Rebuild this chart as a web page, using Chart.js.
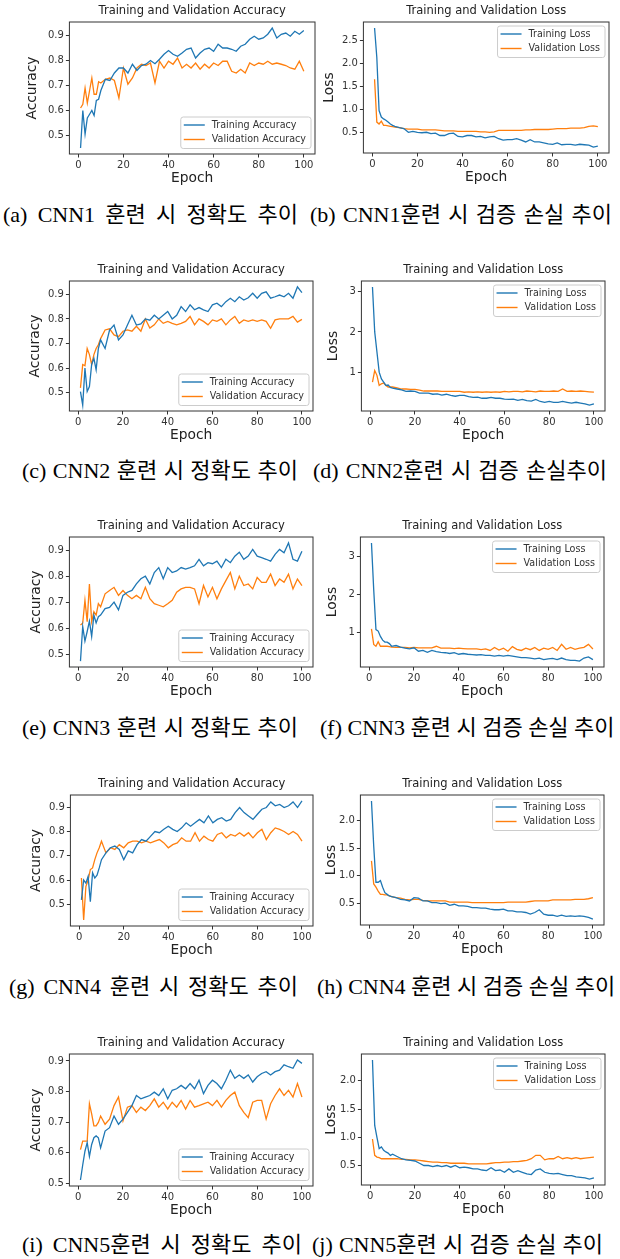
<!DOCTYPE html>
<html>
<head>
<meta charset="utf-8">
<script src="https://cdn.jsdelivr.net/npm/chart.js@4.4.1/dist/chart.umd.min.js"></script>
<style>
  body { margin: 0; background: #fff; width: 620px; height: 1259px; position: relative; overflow: hidden; }
  canvas { position: absolute; }
  .cap { position: absolute; font-family: "Liberation Serif", "Noto Sans CJK KR", serif; font-size: 22px; line-height: 22px; color: #000; white-space: nowrap; }
</style>
</head>
<body>
<script>
// epochs sampled from the figure (every epoch up to 10, then every 2nd)
const epochs = [1,2,3,4,5,6,7,8,9,10,12,14,16,18,20,22,24,26,28,30,32,34,36,38,40,42,44,46,48,50,
  52,54,56,58,60,62,64,66,68,70,72,74,76,78,80,82,84,86,88,90,92,94,96,98,100];

/* CNN1 */
const cnn1AccTrain = [0.45,0.60,0.505,0.57,0.585,0.60,0.58,0.64,0.645,0.68, 0.725,0.72,0.75,0.77,0.77,0.75,0.785,0.76,0.78,0.785,
  0.80,0.787,0.805,0.825,0.84,0.825,0.817,0.83,0.845,0.85, 0.81,0.83,0.845,0.85,0.837,0.865,0.85,0.85,0.845,0.837,
  0.857,0.865,0.885,0.897,0.885,0.89,0.905,0.93,0.89,0.905, 0.91,0.897,0.917,0.905,0.92];
const cnn1AccVal = [0.61,0.625,0.69,0.63,0.68,0.73,0.665,0.665,0.715,0.71, 0.725,0.73,0.72,0.65,0.77,0.705,0.73,0.77,0.785,0.78,
  0.79,0.71,0.797,0.77,0.797,0.785,0.81,0.77,0.785,0.77, 0.79,0.765,0.785,0.77,0.79,0.78,0.797,0.797,0.757,0.75,
  0.765,0.75,0.79,0.78,0.79,0.785,0.797,0.785,0.79,0.785, 0.78,0.77,0.765,0.797,0.757];
const cnn1LossTrain = [2.77,2.13,0.98,0.84,0.80,0.77,0.73,0.69,0.66,0.64, 0.61,0.59,0.51,0.53,0.51,0.50,0.51,0.48,0.49,0.44,
  0.44,0.48,0.49,0.42,0.41,0.44,0.44,0.41,0.42,0.39, 0.41,0.42,0.37,0.34,0.35,0.35,0.37,0.34,0.30,0.35,
  0.30,0.30,0.28,0.26,0.25,0.28,0.24,0.25,0.25,0.23, 0.25,0.24,0.23,0.19,0.21];
const cnn1LossVal = [1.66,0.73,0.69,0.75,0.66,0.66,0.65,0.64,0.63,0.62, 0.61,0.59,0.58,0.58,0.58,0.56,0.56,0.56,0.56,0.55,
  0.54,0.54,0.54,0.53,0.53,0.53,0.53,0.53,0.52,0.52, 0.51,0.52,0.55,0.55,0.55,0.55,0.55,0.55,0.56,0.56,
  0.57,0.57,0.57,0.57,0.58,0.59,0.59,0.59,0.60,0.60, 0.60,0.61,0.64,0.65,0.63];

/* CNN2 */
const cnn2AccTrain = [0.505,0.45,0.60,0.505,0.525,0.615,0.64,0.593,0.68,0.715, 0.68,0.755,0.775,0.715,0.735,0.775,0.815,0.775,0.78,0.80,
  0.795,0.815,0.80,0.815,0.83,0.80,0.815,0.85,0.83,0.857, 0.837,0.846,0.837,0.83,0.857,0.864,0.85,0.87,0.884,0.87,
  0.89,0.877,0.886,0.904,0.884,0.904,0.91,0.884,0.89,0.897, 0.89,0.904,0.884,0.93,0.907];
const cnn2AccVal = [0.52,0.615,0.61,0.68,0.655,0.615,0.655,0.68,0.695,0.72, 0.755,0.76,0.735,0.728,0.75,0.755,0.75,0.77,0.75,0.80,
  0.763,0.776,0.80,0.782,0.79,0.782,0.776,0.782,0.79,0.81, 0.776,0.80,0.79,0.776,0.796,0.79,0.80,0.776,0.796,0.81,
  0.782,0.796,0.79,0.796,0.79,0.796,0.79,0.762,0.796,0.80, 0.80,0.80,0.81,0.787,0.798];
const cnn2LossTrain = [3.12,2.0,1.5,1.0,0.83,0.75,0.67,0.68,0.62,0.60, 0.58,0.56,0.52,0.53,0.52,0.48,0.48,0.48,0.45,0.46,
  0.43,0.45,0.42,0.40,0.42,0.42,0.39,0.37,0.38,0.35, 0.35,0.37,0.35,0.35,0.33,0.32,0.33,0.30,0.32,0.29,
  0.28,0.32,0.27,0.25,0.27,0.25,0.25,0.27,0.25,0.23, 0.25,0.23,0.21,0.18,0.21];
const cnn2LossVal = [0.75,1.04,0.92,0.67,0.71,0.73,0.67,0.63,0.63,0.63, 0.61,0.58,0.58,0.57,0.57,0.55,0.53,0.53,0.53,0.53,
  0.52,0.52,0.52,0.52,0.52,0.50,0.51,0.50,0.51,0.50, 0.51,0.50,0.51,0.50,0.52,0.51,0.52,0.52,0.51,0.53,
  0.52,0.51,0.53,0.52,0.52,0.53,0.52,0.58,0.52,0.53, 0.52,0.53,0.52,0.51,0.50];

/* CNN3 */
const cnn3AccTrain = [0.473,0.606,0.55,0.587,0.627,0.568,0.65,0.62,0.644,0.65, 0.675,0.68,0.70,0.67,0.726,0.738,0.745,0.77,0.79,0.80,
  0.77,0.814,0.833,0.79,0.833,0.814,0.82,0.833,0.827,0.833, 0.84,0.865,0.84,0.852,0.848,0.858,0.833,0.865,0.852,0.877,
  0.892,0.865,0.877,0.903,0.877,0.871,0.865,0.858,0.884,0.903, 0.89,0.928,0.865,0.858,0.896];
const cnn3AccVal = [0.612,0.619,0.707,0.625,0.77,0.625,0.663,0.65,0.694,0.682, 0.732,0.745,0.757,0.726,0.745,0.726,0.713,0.726,0.713,0.757,
  0.713,0.694,0.688,0.682,0.694,0.707,0.738,0.751,0.757,0.757, 0.751,0.694,0.764,0.72,0.757,0.713,0.751,0.783,0.814,0.751,
  0.80,0.764,0.77,0.751,0.795,0.776,0.776,0.808,0.764,0.789, 0.776,0.808,0.751,0.789,0.764];
const cnn3LossTrain = [3.35,2.12,1.07,1.03,0.89,0.79,0.74,0.74,0.70,0.63, 0.65,0.61,0.58,0.56,0.59,0.50,0.52,0.47,0.52,0.49,
  0.47,0.46,0.44,0.46,0.42,0.44,0.42,0.41,0.40,0.41, 0.39,0.39,0.37,0.39,0.37,0.39,0.37,0.35,0.33,0.33,
  0.32,0.30,0.32,0.28,0.30,0.31,0.28,0.32,0.28,0.26, 0.26,0.24,0.32,0.35,0.28];
const cnn3LossVal = [1.09,0.68,0.63,0.75,0.63,0.63,0.63,0.63,0.62,0.61, 0.60,0.60,0.60,0.59,0.60,0.59,0.59,0.59,0.59,0.63,
  0.58,0.58,0.58,0.57,0.58,0.57,0.56,0.56,0.56,0.54, 0.56,0.52,0.60,0.53,0.58,0.50,0.62,0.55,0.52,0.58,
  0.54,0.60,0.52,0.58,0.55,0.60,0.52,0.68,0.55,0.60, 0.55,0.58,0.60,0.68,0.56];

/* CNN4 */
const cnn4AccTrain = [0.518,0.60,0.587,0.615,0.511,0.63,0.608,0.62,0.65,0.684, 0.712,0.733,0.74,0.726,0.684,0.72,0.712,0.746,0.767,0.76,
  0.78,0.80,0.795,0.809,0.822,0.809,0.80,0.815,0.836,0.822, 0.836,0.85,0.836,0.864,0.836,0.85,0.857,0.843,0.85,0.878,
  0.899,0.878,0.864,0.85,0.871,0.892,0.899,0.922,0.906,0.912, 0.899,0.906,0.922,0.899,0.926];
const cnn4AccVal = [0.608,0.435,0.573,0.60,0.643,0.65,0.684,0.712,0.733,0.76, 0.712,0.733,0.726,0.746,0.733,0.753,0.76,0.76,0.753,0.76,
  0.753,0.76,0.767,0.753,0.733,0.746,0.753,0.774,0.76,0.76, 0.795,0.76,0.781,0.767,0.76,0.788,0.795,0.774,0.788,0.781,
  0.795,0.781,0.795,0.774,0.795,0.809,0.767,0.795,0.815,0.809, 0.80,0.788,0.80,0.788,0.76];
const cnn4LossTrain = [2.36,1.54,0.88,0.88,0.91,0.79,0.69,0.66,0.63,0.62, 0.60,0.57,0.56,0.54,0.60,0.59,0.54,0.54,0.51,0.51,
  0.49,0.50,0.46,0.48,0.45,0.45,0.44,0.42,0.42,0.41, 0.41,0.39,0.38,0.38,0.39,0.36,0.36,0.34,0.34,0.33,
  0.30,0.33,0.38,0.30,0.28,0.28,0.26,0.28,0.26,0.27, 0.26,0.27,0.26,0.24,0.21];
const cnn4LossVal = [1.27,0.85,0.79,0.72,0.66,0.66,0.65,0.65,0.63,0.62, 0.60,0.59,0.57,0.56,0.57,0.57,0.55,0.54,0.54,0.54,
  0.54,0.54,0.52,0.52,0.52,0.52,0.52,0.51,0.51,0.51, 0.51,0.51,0.51,0.51,0.51,0.52,0.52,0.52,0.52,0.52,
  0.53,0.54,0.54,0.54,0.54,0.56,0.56,0.56,0.56,0.56, 0.57,0.57,0.57,0.58,0.60];

/* CNN5 */
const cnn5AccTrain = [0.511,0.56,0.605,0.633,0.588,0.627,0.649,0.655,0.649,0.616, 0.671,0.682,0.72,0.693,0.71,0.732,0.754,0.787,0.776,0.782,
  0.787,0.798,0.787,0.809,0.776,0.804,0.809,0.82,0.809,0.826, 0.809,0.837,0.793,0.82,0.837,0.826,0.809,0.837,0.87,0.843,
  0.854,0.843,0.854,0.831,0.848,0.859,0.865,0.854,0.865,0.87, 0.887,0.881,0.876,0.903,0.892];
const cnn5AccVal = [0.61,0.638,0.638,0.638,0.76,0.727,0.688,0.688,0.699,0.72, 0.693,0.71,0.754,0.782,0.704,0.749,0.754,0.732,0.749,0.738,
  0.754,0.776,0.749,0.765,0.743,0.765,0.749,0.771,0.743,0.771, 0.749,0.754,0.76,0.765,0.754,0.771,0.749,0.771,0.787,0.798,
  0.754,0.732,0.715,0.765,0.771,0.771,0.71,0.76,0.787,0.809, 0.787,0.804,0.782,0.826,0.782];
const cnn5LossTrain = [2.37,1.21,1.0,0.80,0.83,0.77,0.74,0.72,0.68,0.70, 0.66,0.62,0.60,0.59,0.58,0.54,0.50,0.50,0.48,0.50,
  0.48,0.50,0.47,0.50,0.46,0.47,0.46,0.44,0.44,0.42, 0.41,0.46,0.41,0.42,0.38,0.44,0.38,0.41,0.38,0.35,
  0.34,0.42,0.44,0.38,0.36,0.35,0.36,0.34,0.32,0.32, 0.30,0.29,0.28,0.26,0.28];
const cnn5LossVal = [0.97,0.68,0.65,0.64,0.62,0.62,0.62,0.62,0.62,0.62, 0.62,0.61,0.61,0.60,0.60,0.59,0.58,0.57,0.56,0.56,
  0.55,0.55,0.54,0.54,0.54,0.54,0.53,0.53,0.53,0.53, 0.53,0.54,0.55,0.55,0.56,0.56,0.57,0.57,0.58,0.59,
  0.62,0.68,0.68,0.60,0.62,0.62,0.66,0.62,0.64,0.62, 0.64,0.62,0.63,0.64,0.65];

// tick labels
const xTicks = [0, 20, 40, 60, 80, 100];
const accTicks = [0.5, 0.6, 0.7, 0.8, 0.9];
const lossTicksA = [0.5, 1.0, 1.5, 2.0, 2.5];
const lossTicksB = [1, 2, 3];
const lossTicksC = [0.5, 1.0, 1.5, 2.0];

const captions = [
  "(a) CNN1 훈련 시 정확도 추이", "(b) CNN1훈련 시 검증 손실 추이",
  "(c) CNN2 훈련 시 정확도 추이", "(d) CNN2훈련 시 검증 손실추이",
  "(e) CNN3 훈련 시 정확도 추이", "(f) CNN3 훈련 시 검증 손실 추이",
  "(g) CNN4 훈련 시 정확도 추이", "(h) CNN4 훈련 시 검증 손실 추이",
  "(i) CNN5훈련 시 정확도 추이", "(j) CNN5훈련 시 검증 손실 추이"
];

/* where each axes box sits on the page: [left, top, right, bottom], ylabel centre x */
const panels = [
  { kind: "acc",  train: cnn1AccTrain,  val: cnn1AccVal,  yTicks: accTicks,   dec: 1, box: [69, 22, 314, 154],   yTitleX: 32 },
  { kind: "loss", train: cnn1LossTrain, val: cnn1LossVal, yTicks: lossTicksA, dec: 1, box: [363, 22, 608, 153],  yTitleX: 329 },
  { kind: "acc",  train: cnn2AccTrain,  val: cnn2AccVal,  yTicks: accTicks,   dec: 1, box: [69, 281, 312, 411],  yTitleX: 35 },
  { kind: "loss", train: cnn2LossTrain, val: cnn2LossVal, yTicks: lossTicksB, dec: 0, box: [361, 281, 604, 411], yTitleX: 333 },
  { kind: "acc",  train: cnn3AccTrain,  val: cnn3AccVal,  yTicks: accTicks,   dec: 1, box: [69, 537, 312, 667],  yTitleX: 36 },
  { kind: "loss", train: cnn3LossTrain, val: cnn3LossVal, yTicks: lossTicksB, dec: 0, box: [360, 537, 603, 667], yTitleX: 332 },
  { kind: "acc",  train: cnn4AccTrain,  val: cnn4AccVal,  yTicks: accTicks,   dec: 1, box: [70, 795, 312, 926],  yTitleX: 36 },
  { kind: "loss", train: cnn4LossTrain, val: cnn4LossVal, yTicks: lossTicksC, dec: 1, box: [360, 795, 603, 925], yTitleX: 331 },
  { kind: "acc",  train: cnn5AccTrain,  val: cnn5AccVal,  yTicks: accTicks,   dec: 1, box: [69, 1054, 312, 1186], yTitleX: 36 },
  { kind: "loss", train: cnn5LossTrain, val: cnn5LossVal, yTicks: lossTicksC, dec: 1, box: [361, 1054, 604, 1185], yTitleX: 331 }
];
// caption [left, right, centre y] on the page
const captionPos = [[3, 298, 215], [310, 612, 215], [22, 298, 471], [313, 607, 471], [22, 298, 728],
  [320, 612, 728], [9, 298, 987], [317, 612, 987], [22, 302, 1245], [312, 603, 1245]];

const BLUE = "#1f77b4";
const ORANGE = "#ff7f0e";
const FONT = "DejaVu Sans";

/* frame round the axes, like matplotlib spines */
const framePlugin = {
  id: "frame",
  afterDraw(chart) {
    const { ctx, chartArea: a } = chart;
    ctx.save();
    ctx.strokeStyle = "#333";
    ctx.lineWidth = 1;
    ctx.strokeRect(a.left, a.top, a.right - a.left, a.bottom - a.top);
    ctx.restore();
  }
};

/* legend inside the axes */
const innerLegend = {
  id: "innerLegend",
  afterDraw(chart, args, opts) {
    const { ctx, chartArea: a } = chart;
    const sets = chart.data.datasets;
    ctx.save();
    ctx.font = `9.6px "${FONT}"`;
    const tw = Math.max(...sets.map(d => ctx.measureText(d.label).width));
    const w = 31 + tw + 5, h = 31.5;
    const x = a.right - 4 - w;
    const y = opts.corner === "lower" ? a.bottom - 5.5 - h : a.top + 4;
    ctx.beginPath();
    ctx.roundRect(x, y, w, h, 2.5);
    ctx.fillStyle = "rgba(255,255,255,0.8)";
    ctx.fill();
    ctx.strokeStyle = "#cccccc";
    ctx.lineWidth = 1;
    ctx.stroke();
    sets.forEach((d, i) => {
      const ry = y + 8 + i * 14.5;
      ctx.strokeStyle = d.borderColor;
      ctx.lineWidth = 1.4;
      ctx.beginPath();
      ctx.moveTo(x + 3, ry);
      ctx.lineTo(x + 24, ry);
      ctx.stroke();
      ctx.fillStyle = "#333";
      ctx.textBaseline = "middle";
      ctx.fillText(d.label, x + 31, ry);
    });
    ctx.restore();
  }
};

panels.forEach(p => {
  const [bl, bt, br, bb] = p.box;
  const left = p.yTitleX - 8.4;
  const top = bt - 22;
  const cw = Math.ceil(br - left + 2);
  const ch = Math.ceil(bb - bt + 22 + 33);

  const cv = document.createElement("canvas");
  cv.width = cw;
  cv.height = ch;
  cv.style.left = left + "px";
  cv.style.top = top + "px";
  document.body.appendChild(cv);

  const all = p.train.concat(p.val);
  const lo = Math.min(...all), hi = Math.max(...all);
  const padY = (hi - lo) * 0.05;
  const padX = (epochs[epochs.length - 1] - epochs[0]) * 0.05;
  const isAcc = p.kind === "acc";
  const name = isAcc ? "Accuracy" : "Loss";

  const tickStyle = { color: "#333", font: { family: FONT, size: 10 }, padding: 2 };
  const gridStyle = { display: true, drawOnChartArea: false, drawTicks: true, tickLength: 3.5, color: "#333" };

  new Chart(cv, {
    type: "line",
    data: {
      datasets: [
        { label: "Training " + name, data: epochs.map((e, i) => ({ x: e, y: p.train[i] })), borderColor: BLUE, borderWidth: 1.3, pointRadius: 0, tension: 0 },
        { label: "Validation " + name, data: epochs.map((e, i) => ({ x: e, y: p.val[i] })), borderColor: ORANGE, borderWidth: 1.3, pointRadius: 0, tension: 0 }
      ]
    },
    options: {
      responsive: false,
      animation: false,
      devicePixelRatio: 1,
      layout: { padding: { left: 0, top: 4.6, right: 2, bottom: 0 } },
      plugins: {
        legend: { display: false },
        tooltip: { enabled: false },
        title: {
          display: true,
          text: "Training and Validation " + name,
          fullSize: false,
          color: "#222",
          font: { family: FONT, size: 11.5, weight: "normal" },
          padding: { top: 0, bottom: 3.6 }
        },
        innerLegend: { corner: isAcc ? "lower" : "upper" }
      },
      scales: {
        x: {
          type: "linear",
          min: epochs[0] - padX,
          max: epochs[epochs.length - 1] + padX,
          afterBuildTicks: ax => { ax.ticks = xTicks.map(v => ({ value: v })); },
          afterFit: ax => { ax.height = 33; },
          ticks: Object.assign({ callback: v => String(v), maxRotation: 0 }, tickStyle),
          grid: gridStyle,
          border: { display: false },
          title: { display: true, text: "Epoch", color: "#222", font: { family: FONT, size: 13.8 }, padding: { top: 0, bottom: 0 } }
        },
        y: {
          type: "linear",
          min: lo - padY,
          max: hi + padY,
          afterBuildTicks: ax => { ax.ticks = p.yTicks.map(v => ({ value: v })); },
          afterFit: ax => { ax.width = bl - left; },
          ticks: Object.assign({ callback: v => v.toFixed(p.dec) }, tickStyle),
          grid: gridStyle,
          border: { display: false },
          title: { display: true, text: name, color: "#222", font: { family: FONT, size: 13.8 }, padding: { top: 0, bottom: 0 } }
        }
      }
    },
    plugins: [framePlugin, innerLegend]
  });
});

/* captions under the panels, spread over the width they take in the figure */
captions.forEach((t, i) => {
  const [x0, x1, yc] = captionPos[i];
  const d = document.createElement("div");
  d.className = "cap";
  d.textContent = t;
  d.style.left = x0 + "px";
  d.style.top = (yc - 11) + "px";
  document.body.appendChild(d);
  const gaps = (t.match(/ /g) || []).length;
  const natural = d.getBoundingClientRect().width;
  if (gaps) d.style.wordSpacing = Math.max(0, (x1 - x0 - natural) / gaps) + "px";
});
</script>
</body>
</html>
